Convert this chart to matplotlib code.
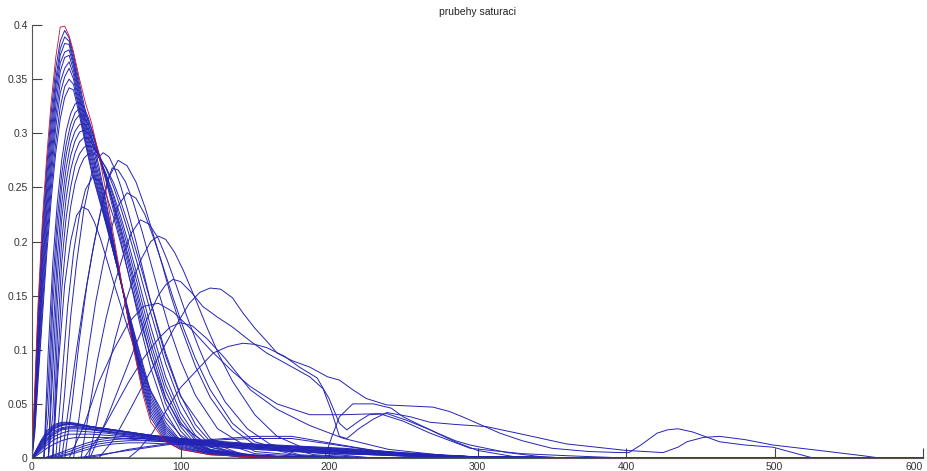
import matplotlib
matplotlib.use('Agg')
import matplotlib.pyplot as plt

plt.rcParams['font.family'] = ['Liberation Sans', 'DejaVu Sans']

# casova osa pro rychle krivky (vrchol kolem 20-28)
fast_x = [0, 2, 4, 7, 10, 13, 16, 19, 22, 25, 28, 32, 36, 40, 45, 50, 55, 60, 65, 70,
          75, 80, 90, 100, 120, 150, 200, 600]

# referencni (cervena) krivka
red_y = [0, .07, .14, .22, .28, .33, .37, .398, .399, .39, .375, .35, .328, .31, .28, .245, .205, .165, .125, .09,
         .057, .033, .015, .008, .003, .001, 0, 0]

fast_y = [
    [0, .06, .13, .21, .27, .32, .36, .385, .395, .388, .372, .346, .32, .298, .27, .236, .2, .164, .127, .093,
     .061, .037, .016, .008, .003, .001, 0, 0],
    [0, .055, .12, .2, .26, .31, .35, .378, .389, .385, .368, .342, .316, .293, .265, .232, .198, .163, .128, .095,
     .064, .04, .018, .009, .004, .001, 0, 0],
    [0, .05, .11, .19, .25, .3, .343, .372, .383, .382, .365, .338, .312, .288, .26, .228, .196, .162, .129, .097,
     .067, .043, .02, .01, .004, .001, 0, 0],
    [0, .045, .1, .18, .24, .29, .335, .365, .375, .377, .362, .335, .308, .284, .256, .225, .194, .162, .13, .099,
     .07, .046, .022, .011, .004, .001, 0, 0],
    [0, .04, .095, .17, .23, .28, .325, .357, .37, .372, .358, .331, .304, .28, .252, .222, .192, .162, .131, .101,
     .073, .049, .024, .012, .005, .002, 0, 0],
    [0, .04, .09, .16, .22, .27, .315, .347, .36, .366, .354, .327, .3, .276, .248, .22, .19, .161, .132, .103,
     .076, .052, .026, .013, .006, .002, 0, 0],
    [0, .035, .085, .15, .21, .26, .305, .337, .352, .36, .35, .323, .296, .272, .245, .218, .19, .161, .133, .105,
     .079, .055, .028, .014, .006, .002, 0, 0],
    [0, .03, .075, .14, .2, .25, .292, .324, .343, .35, .345, .32, .293, .268, .242, .216, .189, .162, .134, .108,
     .082, .058, .03, .015, .007, .002, 0, 0],
    [0, .025, .07, .13, .19, .24, .282, .313, .333, .342, .34, .316, .29, .265, .24, .215, .189, .163, .136, .11,
     .085, .061, .033, .016, .008, .002, 0, 0],
]

# krivky s pozdejsim nastupem (vrchol kolem 31-40)
mid_x = [0, 5, 8, 11, 14, 17, 20, 23, 26, 29, 32, 35, 38, 41, 45, 50, 55, 60, 65, 70,
         75, 80, 90, 100, 110, 120, 140, 170, 200, 600]
mid_y = [
    [0, 0, 0, .1, .18, .235, .275, .302, .318, .327, .329, .324, .314, .3, .28, .255, .228, .2, .17, .14,
     .11, .083, .042, .02, .009, .004, .001, 0, 0, 0],
    [0, 0, 0, .07, .16, .22, .262, .29, .308, .319, .323, .32, .312, .3, .282, .258, .232, .205, .177, .148,
     .12, .093, .05, .025, .011, .005, .001, 0, 0, 0],
    [0, 0, 0, .04, .14, .205, .25, .28, .3, .312, .317, .315, .308, .297, .28, .258, .234, .209, .182, .154,
     .126, .1, .056, .029, .013, .006, .002, 0, 0, 0],
    [0, 0, 0, 0, .11, .185, .235, .268, .29, .302, .308, .309, .303, .293, .278, .258, .236, .212, .186, .159,
     .132, .106, .062, .033, .016, .007, .002, 0, 0, 0],
    [0, 0, 0, 0, .08, .165, .22, .255, .279, .293, .301, .303, .3, .292, .279, .261, .24, .217, .192, .166,
     .139, .113, .068, .037, .018, .008, .002, 0, 0, 0],
    [0, 0, 0, 0, .04, .14, .2, .24, .266, .282, .292, .296, .295, .289, .278, .262, .243, .222, .198, .173,
     .147, .121, .075, .042, .021, .01, .003, 0, 0, 0],
    [0, 0, 0, 0, 0, .11, .18, .222, .25, .27, .281, .287, .289, .287, .28, .267, .25, .23, .208, .184,
     .159, .134, .087, .05, .026, .012, .003, .001, 0, 0],
    [0, 0, 0, 0, 0, .08, .155, .2, .232, .254, .268, .277, .281, .282, .278, .268, .254, .236, .215, .192,
     .168, .144, .097, .058, .031, .015, .004, .001, 0, 0],
]

# pozdni krivky, kazda s vlastni casovou osou
late_x = [
    [0, 14, 18, 22, 26, 30, 34, 38, 42, 46, 50, 55, 60, 65, 70, 80, 90, 100, 120, 150, 200, 600],
    [0, 16, 20, 24, 28, 32, 36, 41, 46, 50, 55, 60, 65, 70, 75, 80, 90, 100, 120, 150, 200, 600],
    [0, 18, 22, 26, 30, 35, 40, 44, 48, 52, 56, 60, 65, 70, 75, 80, 85, 90, 100, 120, 150, 200, 600],
    [0, 20, 25, 30, 35, 40, 45, 50, 54, 58, 63, 68, 74, 80, 86, 92, 100, 110, 125, 150, 200, 600],
    [0, 22, 27, 32, 37, 42, 47, 52, 58, 64, 70, 76, 82, 88, 93, 100, 110, 120, 135, 150, 180, 220, 600],
    [0, 28, 33, 38, 43, 48, 53, 58, 64, 70, 76, 82, 88, 95, 102, 110, 120, 135, 150, 180, 220, 600],
    [0, 33, 38, 44, 50, 56, 62, 67, 73, 79, 85, 91, 97, 104, 112, 120, 130, 145, 160, 190, 230, 600],
    [0, 38, 44, 50, 56, 62, 68, 74, 80, 85, 90, 96, 102, 110, 118, 126, 135, 150, 165, 190, 230, 600],
]
late_y = [
    [0, 0, .09, .16, .2, .224, .232, .229, .218, .203, .185, .162, .14, .118, .097, .062, .037, .021, .007, .002, 0, 0],
    [0, 0, .07, .14, .19, .225, .248, .26, .255, .243, .222, .197, .17, .143, .117, .093, .055, .031, .01, .002, 0, 0],
    [0, 0, .06, .13, .18, .23, .262, .277, .282, .278, .266, .25, .226, .2, .172, .144, .118, .094, .057, .018, .004, 0, 0],
    [0, 0, .05, .1, .145, .185, .22, .252, .268, .266, .255, .237, .21, .18, .15, .122, .09, .058, .027, .006, 0, 0],
    [0, 0, .05, .11, .16, .2, .232, .26, .275, .27, .255, .232, .205, .177, .152, .122, .085, .056, .027, .012, .002, 0, 0],
    [0, 0, .05, .1, .145, .18, .21, .233, .245, .24, .225, .203, .178, .148, .12, .092, .063, .032, .015, .003, 0, 0],
    [0, 0, .04, .09, .13, .163, .19, .208, .22, .216, .203, .183, .16, .132, .103, .077, .052, .027, .013, .003, 0, 0],
    [0, 0, .035, .075, .11, .14, .165, .185, .2, .205, .202, .19, .173, .147, .12, .095, .071, .04, .02, .005, 0, 0],
]

# siroke krivky s dlouhym dozvukem
broad_x = [
    [0, 45, 55, 65, 75, 85, 95, 106, 113, 120, 127, 135, 142, 150, 158, 165, 175, 187, 199, 207,
     215, 225, 239, 255, 270, 281, 290, 300, 315, 330, 350, 375, 396, 402, 410, 421, 428, 435, 445, 455,
     463, 480, 499, 515, 526, 600],
    [0, 65, 72, 81, 90, 100, 113, 122, 132, 142, 150, 158, 170, 180, 192, 200, 207, 212, 220, 227,
     239, 252, 268, 285, 300, 330, 600],
    [0, 39, 50, 60, 70, 78, 85, 90, 95, 100, 108, 115, 125, 135, 147, 158, 170, 187, 196, 202,
     207, 212, 220, 230, 239, 255, 268, 285, 306, 330, 360, 400, 425, 435, 441, 452, 463, 480, 499, 530,
     560, 571, 600],
    [0, 197, 202, 207, 216, 230, 242, 250, 262, 273, 285, 295, 320, 350, 600],
    [0, 25, 35, 45, 55, 65, 75, 85, 95, 108, 120, 135, 147, 165, 187, 210, 234, 250, 268, 295,
     330, 362, 400, 600],
    [0, 35, 45, 55, 65, 75, 85, 93, 100, 108, 118, 130, 147, 165, 187, 210, 240, 280, 320, 600],
]
broad_y = [
    [0, 0, .017, .042, .068, .093, .118, .143, .153, .157, .156, .148, .134, .12, .108, .097, .09, .084, .075, .072,
     .064, .055, .049, .048, .047, .043, .038, .032, .023, .016, .009, .006, .005, .005, .012, .023, .026, .027, .024, .019,
     .015, .012, .01, .004, 0, 0],
    [0, 0, .008, .023, .043, .065, .084, .097, .103, .106, .105, .102, .094, .084, .074, .055, .032, .026, .034, .04,
     .041, .035, .026, .015, .007, 0, 0],
    [0, 0, .035, .07, .105, .13, .15, .16, .165, .163, .152, .14, .13, .121, .108, .097, .088, .075, .064, .042,
     .02, .018, .027, .036, .042, .038, .033, .031, .029, .022, .013, .007, .005, .01, .015, .019, .02, .017, .012, .007,
     .002, 0, 0],
    [0, 0, .02, .038, .05, .05, .046, .038, .03, .023, .016, .012, .005, 0, 0],
    [0, 0, .03, .07, .1, .125, .14, .143, .135, .118, .1, .08, .066, .05, .04, .04, .041, .034, .023, .009,
     .004, .002, 0, 0],
    [0, 0, .02, .045, .07, .092, .11, .121, .125, .122, .11, .092, .063, .045, .03, .018, .008, .002, 0, 0],
]

# nizke krivky u nuly
small_x = [0, 3, 6, 10, 15, 20, 25, 30, 40, 50, 60, 80, 100, 120, 150, 180, 210, 250, 300, 400, 600]
small_y = [
    [0, .008, .016, .025, .031, .033, .033, .032, .029, .027, .025, .021, .018, .016, .013, .011, .009, .005, .001, 0, 0],
    [0, .0075, .015, .0235, .03, .032, .0325, .0315, .029, .027, .025, .021, .018, .0155, .0125, .0105, .0085, .0045, .001, 0, 0],
    [0, .007, .014, .022, .029, .031, .032, .031, .029, .027, .025, .021, .018, .015, .012, .01, .008, .004, .001, 0, 0],
    [0, .0065, .013, .021, .028, .0305, .0315, .0305, .0285, .0265, .0245, .0205, .0175, .0145, .012, .01, .0075, .004, .001, 0, 0],
    [0, .006, .012, .02, .027, .03, .031, .03, .028, .026, .024, .02, .017, .014, .012, .01, .007, .004, .001, 0, 0],
    [0, .005, .011, .018, .025, .028, .029, .029, .027, .025, .023, .02, .017, .014, .011, .009, .007, .003, .001, 0, 0],
    [0, .0045, .01, .017, .0235, .027, .028, .028, .0265, .0245, .0225, .0195, .0165, .0135, .011, .009, .0065, .003, .001, 0, 0],
    [0, .004, .009, .016, .022, .026, .027, .027, .026, .024, .022, .019, .016, .013, .011, .009, .006, .003, .001, 0, 0],
    [0, .004, .008, .014, .02, .023, .025, .025, .024, .023, .021, .018, .015, .013, .01, .008, .006, .003, .001, 0, 0],
    [0, .003, .007, .012, .017, .02, .022, .022, .022, .021, .02, .017, .014, .012, .009, .007, .005, .002, 0, 0, 0],
    [0, .002, .005, .009, .013, .016, .018, .019, .019, .019, .018, .016, .014, .011, .008, .006, .004, .002, 0, 0, 0],
]

low_x = [0, 8, 15, 25, 35, 45, 55, 65, 75, 90, 110, 130, 150, 175, 200, 230, 260, 300, 400, 600]
low_y = [
    [0, 0, .003, .008, .013, .017, .019, .02, .019, .017, .014, .012, .01, .008, .006, .004, .002, .001, 0, 0],
    [0, 0, .002, .006, .011, .015, .017, .018, .018, .016, .014, .012, .01, .008, .006, .004, .002, .001, 0, 0],
    [0, 0, .001, .004, .009, .013, .015, .016, .016, .015, .013, .011, .009, .007, .005, .003, .002, .001, 0, 0],
    [0, 0, 0, .003, .007, .011, .013, .014, .014, .013, .012, .01, .008, .006, .004, .003, .001, 0, 0, 0],
    [0, 0, 0, 0, 0, .002, .005, .008, .01, .013, .016, .018, .02, .02, .014, .007, .003, .001, 0, 0],
    [0, 0, 0, 0, .001, .003, .005, .007, .009, .012, .015, .017, .018, .018, .013, .007, .003, .001, 0, 0],
]

x_ticks = [0, 100, 200, 300, 400, 500, 600]
y_ticks = [0, 0.05, 0.1, 0.15, 0.2, 0.25, 0.3, 0.35, 0.4]
y_tick_labels = ['0', '0.05', '0.1', '0.15', '0.2', '0.25', '0.3', '0.35', '0.4']

blue = '#2424b4'
lw = 0.7

fig = plt.figure(figsize=(9.27, 4.71), dpi=100)
ax = fig.add_axes([32 / 927, 13 / 471, 891 / 927, 433 / 471])

for y in small_y:
    ax.plot(small_x, y, color=blue, lw=lw)
for y in low_y:
    ax.plot(low_x, y, color=blue, lw=lw)
for x, y in zip(broad_x, broad_y):
    ax.plot(x, y, color=blue, lw=lw)
for x, y in zip(late_x, late_y):
    ax.plot(x, y, color=blue, lw=lw)
for y in mid_y:
    ax.plot(mid_x, y, color=blue, lw=lw)
for y in fast_y:
    ax.plot(fast_x, y, color=blue, lw=lw)
ax.plot(fast_x, red_y, color='#c8102a', lw=0.6)

ax.set_xlim(0, 600)
ax.set_ylim(0, 0.4)
ax.set_xticks(x_ticks)
ax.set_yticks(y_ticks)
ax.set_yticklabels(y_tick_labels)
ax.tick_params(direction='in', length=7, width=0.8, color='#444444',
               labelcolor='#333333', labelsize=7.5, pad=3)
# posledni popisek osy x by jinak presahoval okraj obrazku
ax.get_xticklabels()[-1].set_horizontalalignment('right')
for side in ['top', 'right']:
    ax.spines[side].set_visible(False)
for side in ['left', 'bottom']:
    ax.spines[side].set_color('#555555')
    ax.spines[side].set_linewidth(0.8)

ax.set_title('prubehy saturaci', fontsize=7.5, color='#222222', pad=7)

fig.savefig('out.png', dpi=100)
